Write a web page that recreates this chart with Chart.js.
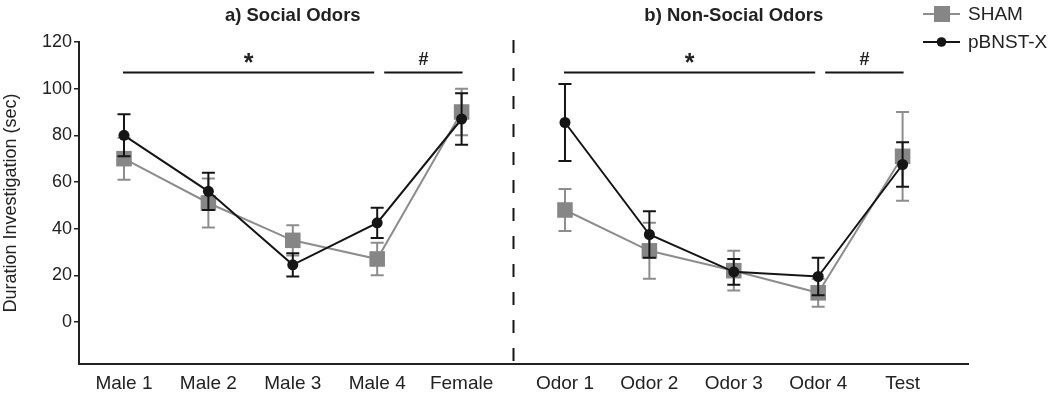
<!DOCTYPE html>
<html>
<head>
<meta charset="utf-8">
<script src="https://cdn.jsdelivr.net/npm/chart.js@4/dist/chart.umd.min.js"></script>
<style>
  html, body { margin: 0; padding: 0; background: #fff; }
</style>
</head>
<body>
<canvas id="odor-chart" width="1050" height="393"></canvas>
<script>
const socialLabels = ['Male 1', 'Male 2', 'Male 3', 'Male 4', 'Female'];
const nonSocialLabels = ['Odor 1', 'Odor 2', 'Odor 3', 'Odor 4', 'Test'];

const shamSocial = [70, 51, 35, 27, 90];
const shamSocialErr = [9, 10.5, 6.5, 7, 10];
const pbnstSocial = [80, 56, 24.5, 42.5, 87];
const pbnstSocialErr = [9, 8, 5, 6.5, 11];

const shamNonSocial = [48, 30.5, 22, 12.5, 71];
const shamNonSocialErr = [9, 12, 8.5, 6, 19];
const pbnstNonSocial = [85.5, 37.5, 21.5, 19.5, 67.5];
const pbnstNonSocialErr = [16.5, 10, 5.5, 8, 9.5];

const yTicks = [0, 20, 40, 60, 80, 100, 120];
const panelTitles = ['a) Social Odors', 'b) Non-Social Odors'];
// significance lines over each panel (category indexes)
const sigMarks = [
  { from: 0, to: 3, mark: '*' },
  { from: 3, to: 4, mark: '#' },
];
const sigLevel = 107;

const FONT = 'Liberation Sans, Arial, Helvetica, sans-serif';
const GREY = '#8d8d8d';
const GREY_FILL = '#868686';
const BLACK = '#151515';
const TEXT = '#222';

// the second panel starts a bit further right than a plain step
const panelShift = 5.225;
const xPos = (panel, i) => panel === 0 ? i : i + panelShift;
const allLabels = socialLabels.concat(nonSocialLabels);
const allX = socialLabels.map((_, i) => xPos(0, i)).concat(nonSocialLabels.map((_, i) => xPos(1, i)));

function points(panel, values) {
  return values.map((v, i) => ({ x: xPos(panel, i), y: v }));
}

const shamStyle = {
  label: 'SHAM',
  borderColor: GREY,
  backgroundColor: GREY_FILL,
  pointBackgroundColor: GREY_FILL,
  pointBorderColor: GREY_FILL,
  borderWidth: 2,
  pointStyle: 'rect',
  pointRadius: 11,
  pointBorderWidth: 0,
  errColor: GREY,
  order: 1,
};
const pbnstStyle = {
  label: 'pBNST-X',
  borderColor: BLACK,
  backgroundColor: BLACK,
  pointBackgroundColor: BLACK,
  pointBorderColor: BLACK,
  borderWidth: 2,
  pointStyle: 'circle',
  pointRadius: 5.5,
  pointBorderWidth: 0,
  errColor: BLACK,
  order: 0,
};

const errorBars = {
  id: 'errorBars',
  beforeDatasetDraw(chart, args) {
    const ds = chart.data.datasets[args.index];
    if (!ds.errors) return;
    const ctx = chart.ctx;
    const y = chart.scales.y;
    ctx.save();
    ctx.strokeStyle = ds.errColor;
    ctx.lineWidth = 2;
    args.meta.data.forEach((pt, i) => {
      const v = ds.data[i].y, e = ds.errors[i];
      const top = y.getPixelForValue(v + e);
      const bot = y.getPixelForValue(v - e);
      ctx.beginPath();
      ctx.moveTo(pt.x, top); ctx.lineTo(pt.x, bot);
      ctx.moveTo(pt.x - 6.5, top); ctx.lineTo(pt.x + 6.5, top);
      ctx.moveTo(pt.x - 6.5, bot); ctx.lineTo(pt.x + 6.5, bot);
      ctx.stroke();
    });
    ctx.restore();
  }
};

const decorations = {
  id: 'decorations',
  afterDraw(chart) {
    const ctx = chart.ctx;
    const x = chart.scales.x, y = chart.scales.y;
    const area = chart.chartArea;
    ctx.save();

    // dashed divider between the panels
    const divX = Math.round(x.getPixelForValue((xPos(0, 4) + xPos(1, 0)) / 2)) + 0.5;
    ctx.strokeStyle = BLACK;
    ctx.lineWidth = 2;
    ctx.setLineDash([13, 15]);
    ctx.beginPath();
    ctx.moveTo(divX, area.top - 2);
    ctx.lineTo(divX, area.bottom);
    ctx.stroke();
    ctx.setLineDash([]);

    // panel titles
    ctx.fillStyle = TEXT;
    ctx.font = 'bold 18.5px ' + FONT;
    ctx.textAlign = 'center';
    ctx.textBaseline = 'middle';
    panelTitles.forEach((t, p) => ctx.fillText(t, x.getPixelForValue(xPos(p, 2)), 16));

    // significance lines
    const ly = Math.round(y.getPixelForValue(sigLevel)) + 0.5;
    [0, 1].forEach(p => {
      sigMarks.forEach(s => {
        let x0 = x.getPixelForValue(xPos(p, s.from));
        let x1 = x.getPixelForValue(xPos(p, s.to));
        if (s.from > 0) x0 += 7; else x0 -= 1;
        if (s.to < 4) x1 -= 3; else x1 += 1;
        ctx.beginPath();
        ctx.moveTo(x0, ly); ctx.lineTo(x1, ly);
        ctx.stroke();
        if (s.mark === '*') {
          ctx.font = 'bold 25px ' + FONT;
          ctx.fillText(s.mark, (x0 + x1) / 2, ly - 8);
        } else {
          ctx.font = 'bold 18px ' + FONT;
          ctx.fillText(s.mark, (x0 + x1) / 2, ly - 12);
        }
      });
    });

    // legend: line with marker, then label
    const rows = [
      { ds: chart.data.datasets[0], y: 14 },
      { ds: chart.data.datasets[2], y: 42 },
    ];
    rows.forEach(r => {
      ctx.strokeStyle = r.ds.borderColor;
      ctx.lineWidth = 2;
      ctx.beginPath();
      ctx.moveTo(923, r.y); ctx.lineTo(960, r.y);
      ctx.stroke();
      ctx.fillStyle = r.ds.pointBackgroundColor;
      if (r.ds.pointStyle === 'rect') {
        ctx.fillRect(934, r.y - 8, 16, 16);
      } else {
        ctx.beginPath();
        ctx.arc(941.5, r.y, 4.8, 0, Math.PI * 2);
        ctx.fill();
      }
      ctx.fillStyle = TEXT;
      ctx.font = '19px ' + FONT;
      ctx.textAlign = 'left';
      ctx.fillText(r.ds.label, 968, r.y + 1);
    });
    ctx.restore();
  }
};

new Chart(document.getElementById('odor-chart'), {
  type: 'line',
  data: {
    datasets: [
      Object.assign({}, shamStyle, { data: points(0, shamSocial), errors: shamSocialErr }),
      Object.assign({}, shamStyle, { data: points(1, shamNonSocial), errors: shamNonSocialErr }),
      Object.assign({}, pbnstStyle, { data: points(0, pbnstSocial), errors: pbnstSocialErr }),
      Object.assign({}, pbnstStyle, { data: points(1, pbnstNonSocial), errors: pbnstNonSocialErr }),
    ],
  },
  options: {
    responsive: false,
    animation: false,
    devicePixelRatio: 1,
    layout: { padding: { left: 0, right: 82, top: 42, bottom: 0 } },
    plugins: {
      legend: { display: false },
      tooltip: { enabled: false },
    },
    scales: {
      x: {
        type: 'linear',
        min: -0.533,
        max: 10.0,
        afterBuildTicks: axis => { axis.ticks = allX.map(v => ({ value: v })); },
        afterFit: axis => { axis.height = 29; },
        grid: { display: false },
        border: { display: true, color: TEXT, width: 2 },
        ticks: {
          autoSkip: false,
          maxRotation: 0,
          padding: 0,
          color: TEXT,
          font: { family: FONT, size: 19 },
          callback: (v, i) => allLabels[i],
        },
      },
      y: {
        min: -18,
        max: 120,
        afterBuildTicks: axis => { axis.ticks = yTicks.map(v => ({ value: v })); },
        afterFit: axis => { axis.width = 79; },
        grid: { drawOnChartArea: false, drawTicks: true, tickLength: 5, color: TEXT, lineWidth: 1.5 },
        border: { display: true, color: TEXT, width: 2 },
        ticks: {
          padding: 2,
          color: TEXT,
          font: { family: FONT, size: 18 },
        },
        title: {
          display: true,
          text: 'Duration Investigation (sec)',
          color: TEXT,
          font: { family: FONT, size: 18 },
          padding: { top: 0, bottom: 0 },
        },
      },
    },
  },
  plugins: [errorBars, decorations],
});
</script>
</body>
</html>
